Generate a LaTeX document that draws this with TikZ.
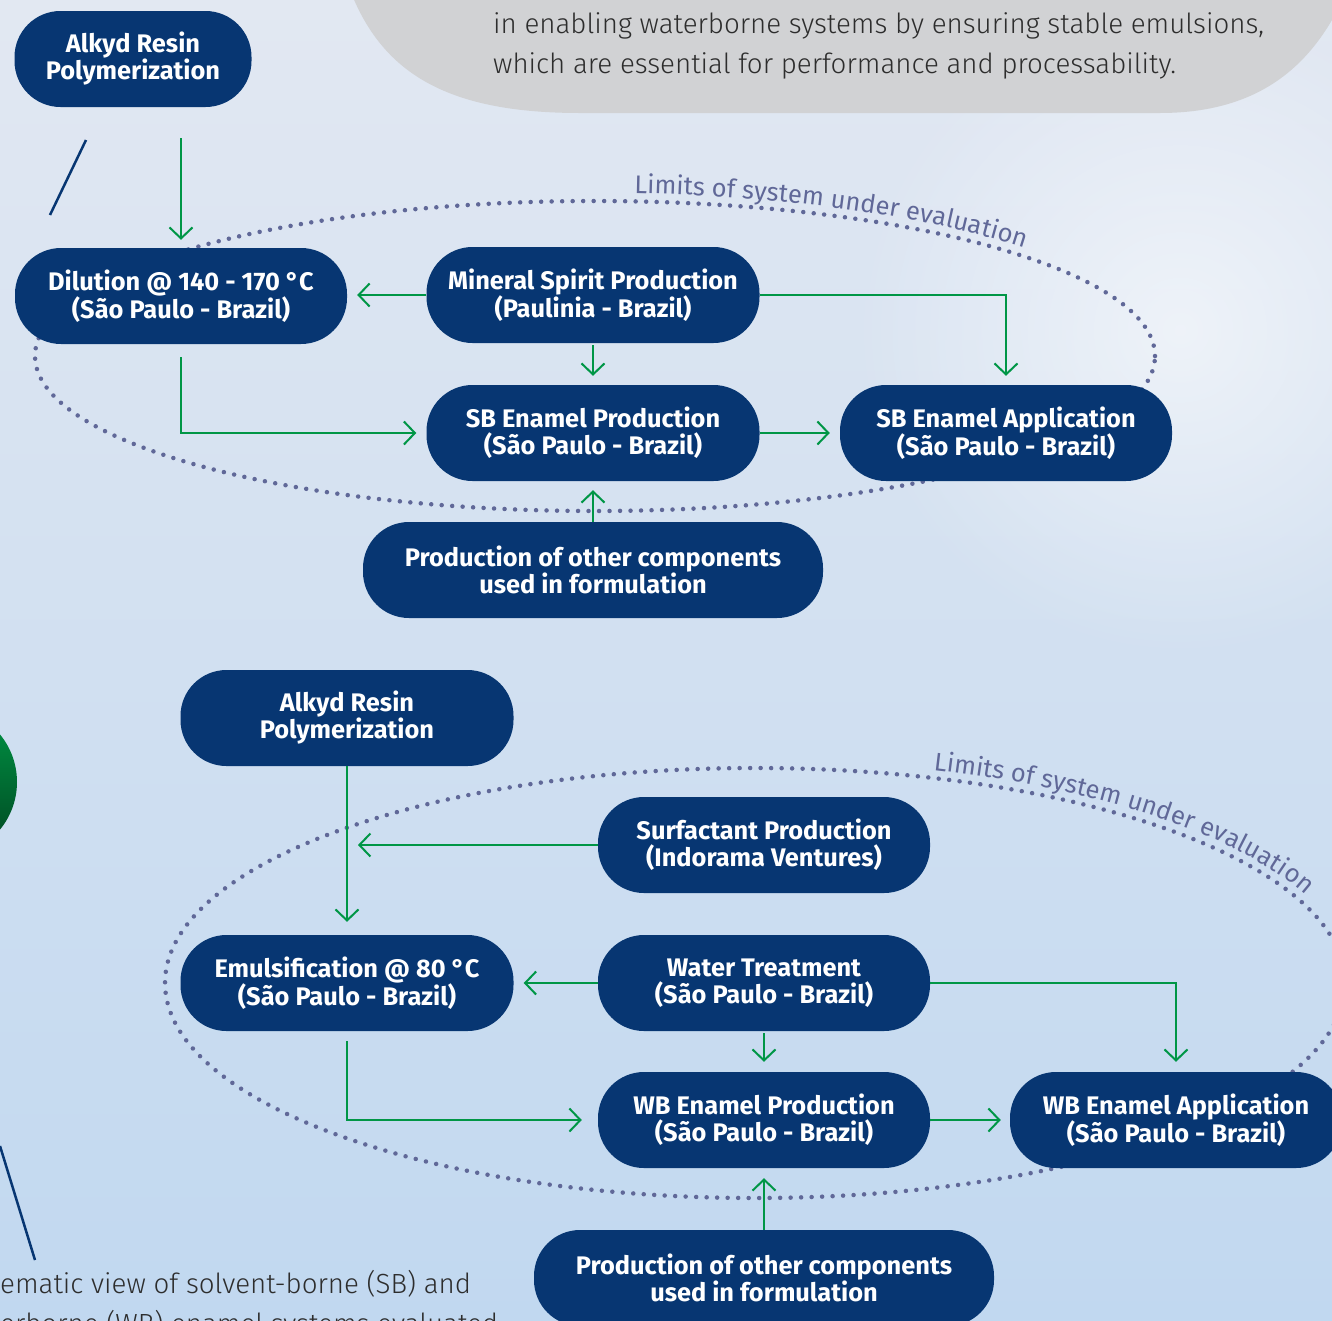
\documentclass[tikz,border=0pt]{standalone}
\usepackage{fontspec}
\setmainfont{Fira Sans}
\newfontfamily\nodefont{Fira Sans}
\newfontfamily\labfont{Fira Sans}
\newfontfamily\bodyfont{Fira Sans Light}
\usetikzlibrary{arrows.meta,decorations.text,calc,fadings}
\definecolor{nodeblue}{RGB}{7,54,114}
\definecolor{arrgreen}{RGB}{0,150,70}
\definecolor{dotcol}{RGB}{96,104,152}
\definecolor{bubble}{RGB}{209,210,212}
\definecolor{bgtop}{RGB}{226,232,242}
\definecolor{bgbot}{RGB}{193,216,240}
\definecolor{txtgray}{RGB}{45,45,45}
\newcommand\limfont{\labfont\fontsize{25.5}{25.5}\selectfont}
\tikzfading[name=haze, inner color=transparent!0, outer color=transparent!100]
\tikzset{
  box/.style={fill=nodeblue, text=white, rounded corners=46pt, minimum height=96pt,
    inner sep=0pt, align=center, font=\nodefont\bfseries\fontsize{25.4}{27}\selectfont},
  arr/.style={draw=arrgreen, line width=2pt, -{Straight Barb[length=11pt,width=23pt]}},
  dots/.style={draw=dotcol, line width=4.5pt, line cap=round, dash pattern=on 0pt off 10.5pt},
  bodytxt/.style={text=txtgray, inner sep=0pt, anchor=base west, font=\bodyfont\fontsize{27.7}{27.7}\selectfont},
  deco/.style={draw=nodeblue, line width=2.5pt}
}
\begin{document}
\begin{tikzpicture}[x=1pt,y=-1pt]
\useasboundingbox (0,0) rectangle (1332,1320);
\clip (0,0) rectangle (1332,1320);
% background
\shade[top color=bgtop, bottom color=bgbot] (0,0) rectangle (1332,1320);
\fill[white, opacity=0.55, path fading=haze] (1180,330) ellipse [x radius=330pt, y radius=330pt];
% grey bubble
\fill[bubble] (352,-5) .. controls (385,75) and (450,113) .. (580,113) -- (1160,113) .. controls (1265,113) and (1315,60) .. (1345,-5) -- cycle;
\node[bodytxt] (b1) at (493,33) {in enabling waterborne systems by ensuring stable emulsions,};
\node[bodytxt] (b2) at (493,73) {which are essential for performance and processability.};
% decorative elements from page
\shade[top color=arrgreen, bottom color=arrgreen!45!black] (-58,782) circle [radius=75pt];
\draw[deco] (86,140) -- (50,215);
\draw[deco] (0,1146) -- (35,1260);
\node[bodytxt] (c1) at (0,1293) {ematic view of solvent-borne (SB) and};
\node[bodytxt] (c2) at (0,1333) {erborne (WB) enamel systems evaluated};
% system limits
\draw[dots] (595,356) ellipse [x radius=560pt, y radius=155pt];
\path[decorate, decoration={text along path, text={|\limfont|Limits of system under evaluation}, text color=dotcol, raise=8pt}]
  ($(595,356)+(86:560pt and 155pt)$) arc[start angle=86, end angle=5, x radius=560pt, y radius=155pt];
\draw[dots] (755,983) ellipse [x radius=590pt, y radius=215pt];
\path[decorate, decoration={text along path, text={|\limfont|Limits of system under evaluation}, text color=dotcol, raise=8pt}]
  ($(755,983)+(72.5:590pt and 215pt)$) arc[start angle=72.5, end angle=0, x radius=590pt, y radius=215pt];
% nodes
\node[box, minimum width=237pt] (alk1) at (133,59) {Alkyd Resin\\Polymerization};
\node[box, minimum width=332pt] (dil) at (181,296) {Dilution @ 140 - 170 °C\\(São Paulo - Brazil)};
\node[box, minimum width=333pt] (min) at (593,295) {Mineral Spirit Production\\(Paulinia - Brazil)};
\node[box, minimum width=333pt] (sbp) at (593,433) {SB Enamel Production\\(São Paulo - Brazil)};
\node[box, minimum width=332pt] (sba) at (1006,433) {SB Enamel Application\\(São Paulo - Brazil)};
\node[box, minimum width=460pt] (oth1) at (593,570) {Production of other components\\used in formulation};
\node[box, minimum width=333pt] (alk2) at (347,718) {Alkyd Resin\\Polymerization};
\node[box, minimum width=332pt] (sur) at (764,845) {Surfactant Production\\(Indorama Ventures)};
\node[box, minimum width=333pt] (emu) at (347,983) {Emulsification @ 80 °C\\(São Paulo - Brazil)};
\node[box, minimum width=332pt] (wat) at (764,983) {Water Treatment\\(São Paulo - Brazil)};
\node[box, minimum width=332pt] (wbp) at (764,1120) {WB Enamel Production\\(São Paulo - Brazil)};
\node[box, minimum width=332pt] (wba) at (1176,1120) {WB Enamel Application\\(São Paulo - Brazil)};
\node[box, minimum width=460pt] (oth2) at (764,1278) {Production of other components\\used in formulation};
% connectors (SB)
\draw[arr, shorten <=31pt, shorten >=8pt] (alk1.south -| dil.north) -- (dil.north);
\draw[arr, shorten >=10pt] (min.west) -- (min.west -| dil.east);
\draw[arr, shorten <=2pt, shorten >=9pt] (min.south) -- (sbp.north);
\draw[arr, shorten >=9pt] (min.east) -| (sba.north);
\draw[arr, shorten <=13pt, shorten >=10pt] (dil.south) |- (sbp.west);
\draw[arr, shorten >=10pt] (sbp.east) -- (sba.west);
\draw[arr, shorten >=9pt] (oth1.north) -- (sbp.south);
% connectors (WB)
\draw[arr, shorten >=13pt] (alk2.south) -- (emu.north);
\draw[arr, shorten >=11pt] (sur.west) -- (sur.west -| alk2.south);
\draw[arr, shorten >=10pt] (wat.west) -- (emu.east);
\draw[arr, shorten <=2pt, shorten >=10pt] (wat.south) -- (wbp.north);
\draw[arr, shorten >=10pt] (wat.east) -| (wba.north);
\draw[arr, shorten <=10pt, shorten >=16pt] (emu.south) |- (wbp.west);
\draw[arr, shorten >=9pt] (wbp.east) -- (wba.west);
\draw[arr, shorten >=10pt] (oth2.north) -- (wbp.south);
\end{tikzpicture}
\end{document}
